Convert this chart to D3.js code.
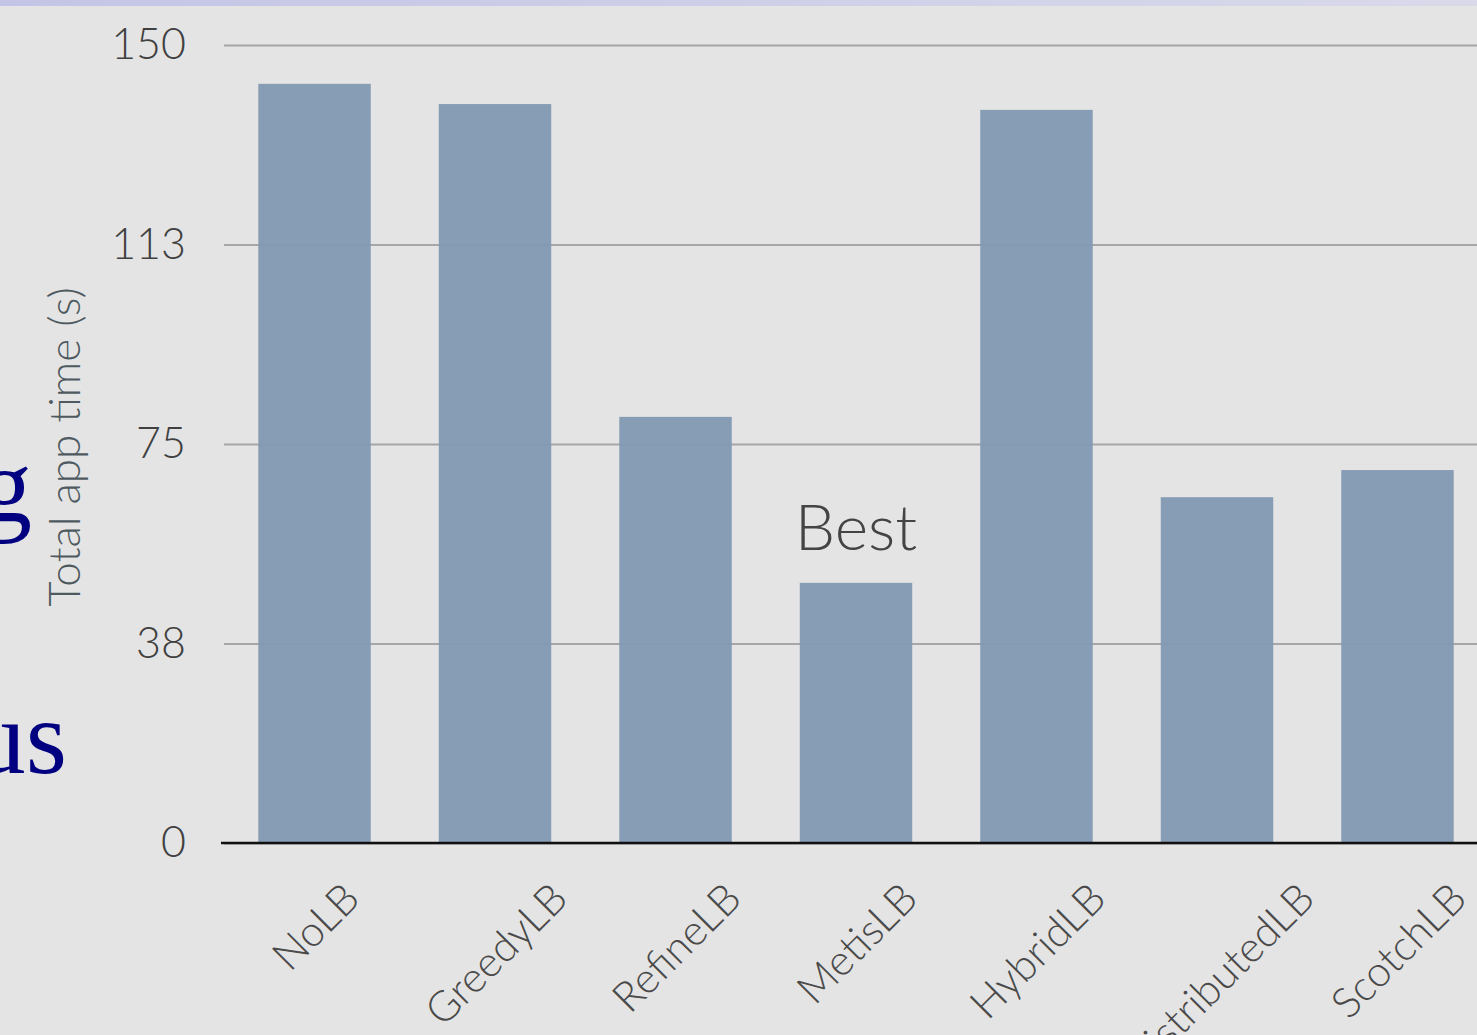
<!DOCTYPE html>
<html>
<head>
<meta charset="utf-8">
<script src="https://cdn.jsdelivr.net/npm/d3@7"></script>
<style>
  html, body { margin: 0; padding: 0; background: #e4e4e4; overflow: hidden; }
  svg { display: block; }
  .tick text { font-family: Lato, "Open Sans", sans-serif; font-weight: 300; }
</style>
</head>
<body>
<div id="chart"></div>
<script>
(function(d3) {
  "use strict";

  // data
  var categories = ["NoLB", "GreedyLB", "RefineLB", "MetisLB", "HybridLB", "DistributedLB", "ScotchLB"];
  var values = [142.7, 138.9, 80.1, 48.9, 137.8, 65.0, 70.1];
  var yTicks = [0, 37.5, 75, 112.5, 150];
  var bestLabel = "Best";
  var bestCategory = "MetisLB";

  var width = 1477, height = 1035;
  var Plot = { left: 224, right: 1488, top: 45, bottom: 843 };
  var labelTop = 879, labelSize = 42;

  var svg = d3.select("#chart").append("svg")
    .attr("width", width)
    .attr("height", height);

  var defs = svg.append("defs");
  var grad = defs.append("linearGradient").attr("id", "strip");
  grad.append("stop").attr("offset", "0%").attr("stop-color", "#c4c4e6");
  grad.append("stop").attr("offset", "100%").attr("stop-color", "#d9d9ea");

  svg.append("rect").attr("width", width).attr("height", height).attr("fill", "#e4e4e4");
  svg.append("rect").attr("width", width).attr("height", 6).attr("fill", "url(#strip)");

  // bits of the slide text behind the chart
  var slide = svg.append("g")
    .attr("font-family", "'Liberation Serif', 'Times New Roman', serif")
    .attr("font-size", 106)
    .attr("fill", "#000080")
    .attr("text-anchor", "end");
  slide.append("text").attr("x", 32).attr("y", 521).text("g");
  slide.append("text").attr("x", 67).attr("y", 773).text("us");

  var x = d3.scaleBand()
    .domain(categories)
    .range([Plot.left, Plot.right])
    .paddingInner(0.377)
    .paddingOuter(0.19);

  var y = d3.scaleLinear()
    .domain([0, 150])
    .range([Plot.bottom, Plot.top]);

  // gridlines + labels
  var yAxis = svg.append("g")
    .attr("transform", `translate(${Plot.left}, 0)`)
    .call(d3.axisLeft(y)
      .tickValues(yTicks)
      .tickSize(-(Plot.right - Plot.left))
      .tickPadding(38)
      .tickFormat(d => Math.round(d)));
  yAxis.select(".domain").remove();
  yAxis.selectAll(".tick line")
    .attr("stroke", "#a6a6a6")
    .attr("stroke-width", 2);
  yAxis.selectAll(".tick text")
    .attr("fill", "#404040")
    .attr("font-size", 43);

  // bars
  svg.append("g").selectAll("rect")
    .data(categories)
    .enter()
    .append("rect")
    .attr("x", d => x(d))
    .attr("y", (d, i) => y(values[i]))
    .attr("width", x.bandwidth())
    .attr("height", (d, i) => y(0) - y(values[i]))
    .attr("fill", "#8399b3")
    .attr("fill-opacity", 0.97);

  // baseline
  svg.append("line")
    .attr("x1", Plot.left - 3).attr("x2", width)
    .attr("y1", y(0)).attr("y2", y(0))
    .attr("stroke", "#111")
    .attr("stroke-width", 2.5);

  // category labels: rotated, centred under the bar, tops lined up
  var labels = svg.append("g").selectAll("text")
    .data(categories)
    .enter()
    .append("text")
    .attr("text-anchor", "middle")
    .attr("dominant-baseline", "central")
    .attr("font-family", "Lato, 'Open Sans', sans-serif")
    .attr("font-weight", 300)
    .attr("font-size", labelSize)
    .attr("fill", "#4a4a4a")
    .text(d => d);
  labels.attr("transform", function(d) {
    var len = this.getComputedTextLength();
    var half = (len + labelSize * 0.72) * Math.SQRT1_2 / 2;
    return `translate(${x(d) + x.bandwidth() / 2}, ${labelTop + half}) rotate(-45)`;
  });

  // y title
  svg.append("text")
    .attr("transform", `translate(80, 447) rotate(-90)`)
    .attr("text-anchor", "middle")
    .attr("font-family", "Lato, 'Open Sans', sans-serif")
    .attr("font-weight", 300)
    .attr("font-size", 44)
    .attr("fill", "#4f5a60")
    .text("Total app time (s)");

  // annotation
  var bi = categories.indexOf(bestCategory);
  svg.append("text")
    .attr("x", x(bestCategory) + x.bandwidth() / 2)
    .attr("y", y(values[bi]) - 33)
    .attr("text-anchor", "middle")
    .attr("font-family", "Lato, 'Open Sans', sans-serif")
    .attr("font-weight", 300)
    .attr("font-size", 64)
    .attr("fill", "#444")
    .text(bestLabel);

})(d3);
</script>
</body>
</html>
